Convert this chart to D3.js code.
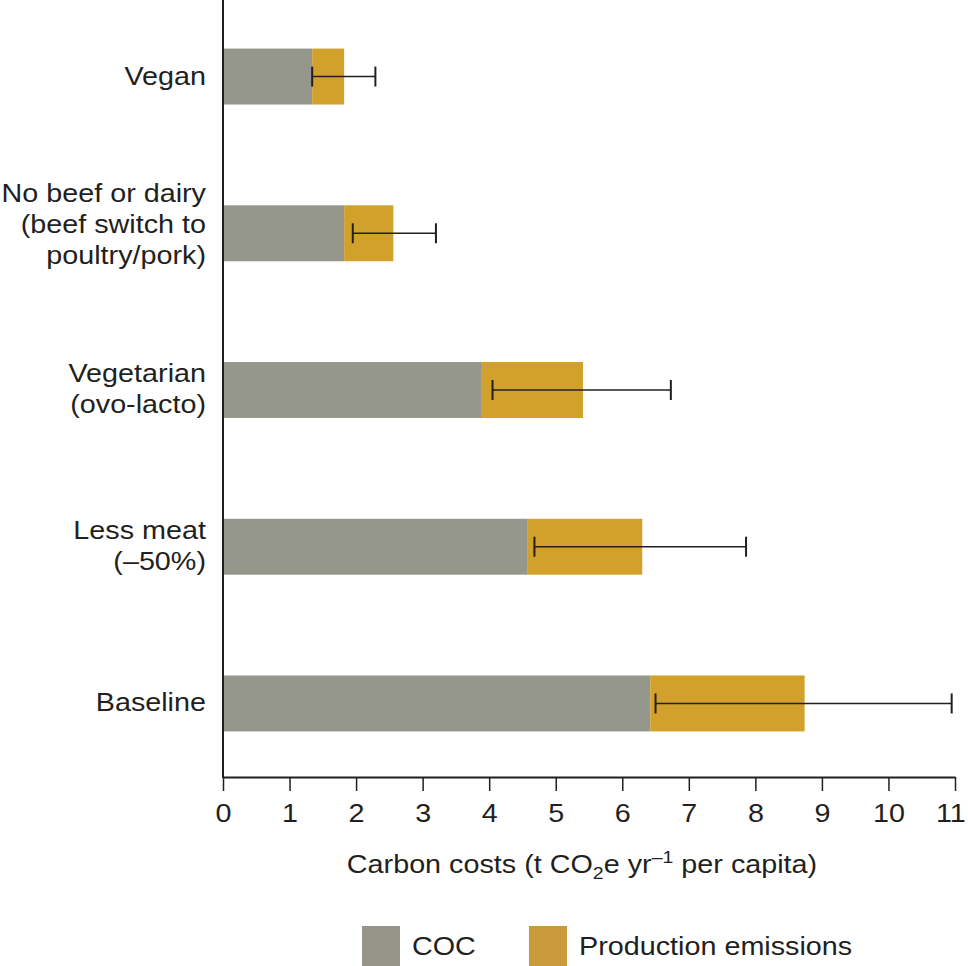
<!DOCTYPE html>
<html lang="en">
<head>
<meta charset="UTF-8">
<title>Carbon costs</title>
<script src="https://cdn.jsdelivr.net/npm/d3@7"></script>
<style>
  body { margin: 0; background: #fff; }
  text { font-family: "Liberation Sans", Arial, sans-serif; fill: #231f20; }
</style>
</head>
<body>
<script>
// data
var diets = ["Vegan", "No beef or dairy", "Vegetarian", "Less meat", "Baseline"];
var dietLabels = [["Vegan"], ["No beef or dairy", "(beef switch to", "poultry/pork)"],
                  ["Vegetarian", "(ovo-lacto)"], ["Less meat", "(\u201350%)"], ["Baseline"]];
var coc = [1.34, 1.82, 3.89, 4.58, 6.42];
var production = [0.48, 0.74, 1.52, 1.72, 2.32];
var errLow = [1.34, 1.95, 4.05, 4.68, 6.50];
var errHigh = [2.29, 3.20, 6.73, 7.86, 10.95];
var xTicks = [0, 1, 2, 3, 4, 5, 6, 7, 8, 9, 10, 11];

var width = 968, height = 966;
var cocColor = "#95968c", prodColor = "#d2a12c";
var fs = 25, stretch = 1.15; // text in the figure is a bit wider than plain Helvetica

var svg = d3.select("body").append("svg").attr("width", width).attr("height", height);

var x = d3.scaleLinear().domain([0, 11]).range([223, 955]);
var y = d3.scaleBand().domain(diets).range([0, 780]).paddingInner(0.643).paddingOuter(0.31);

// bars
var rows = svg.selectAll(".row").data(diets).enter().append("g").attr("class", "row");
rows.append("rect")
  .attr("x", x(0))
  .attr("y", function(d) { return y(d); })
  .attr("width", function(d, i) { return x(coc[i]) - x(0); })
  .attr("height", y.bandwidth())
  .attr("fill", cocColor);
rows.append("rect")
  .attr("x", function(d, i) { return x(coc[i]); })
  .attr("y", function(d) { return y(d); })
  .attr("width", function(d, i) { return x(coc[i] + production[i]) - x(coc[i]); })
  .attr("height", y.bandwidth())
  .attr("fill", prodColor);

// error bars
var cap = 10;
rows.each(function(d, i) {
  var g = d3.select(this), cy = y(d) + y.bandwidth() / 2;
  g.append("line").attr("x1", x(errLow[i])).attr("x2", x(errHigh[i]))
    .attr("y1", cy).attr("y2", cy).attr("stroke", "#231f20").attr("stroke-width", 1.6);
  [errLow[i], errHigh[i]].forEach(function(v) {
    g.append("line").attr("x1", x(v)).attr("x2", x(v))
      .attr("y1", cy - cap).attr("y2", cy + cap)
      .attr("stroke", "#231f20").attr("stroke-width", 2);
  });
});

// category labels
rows.each(function(d, i) {
  var lines = dietLabels[i], cy = y(d) + y.bandwidth() / 2, lh = 31;
  var shift = lines.length === 3 ? 0 : 8;
  var t = d3.select(this).append("text")
    .attr("transform", "translate(206,0) scale(" + stretch + ",1)")
    .attr("text-anchor", "end").attr("font-size", fs);
  lines.forEach(function(l, k) {
    t.append("tspan").attr("x", 0)
      .attr("y", cy + (k - (lines.length - 1) / 2) * lh + shift).text(l);
  });
});

// axes
var axisY = 777;
var xAxis = svg.append("g").attr("transform", "translate(0," + axisY + ")")
  .call(d3.axisBottom(x).tickValues(xTicks).tickSize(14).tickPadding(13).tickSizeOuter(0));
xAxis.select(".domain").attr("stroke", "#231f20").attr("stroke-width", 2);
xAxis.selectAll(".tick line").attr("stroke", "#231f20").attr("stroke-width", 1.5);
xAxis.selectAll(".tick text").attr("font-size", fs)
  .attr("font-family", "Liberation Sans, Arial, sans-serif").attr("fill", "#231f20")
  .attr("transform", "scale(" + stretch + ",1)")
  .attr("dx", function(d) { return d === 11 ? -4 : 0; });

svg.append("line").attr("x1", x(0)).attr("x2", x(0)).attr("y1", 0).attr("y2", axisY + 1)
  .attr("stroke", "#231f20").attr("stroke-width", 2);

// axis title
var title = svg.append("text")
  .attr("transform", "translate(582,873) scale(" + stretch + ",1)")
  .attr("text-anchor", "middle").attr("font-size", fs);
title.append("tspan").text("Carbon costs (t CO");
title.append("tspan").attr("font-size", 17).attr("dy", 6).text("2");
title.append("tspan").attr("dy", -6).text("e yr");
title.append("tspan").attr("font-size", 17).attr("dy", -10).text("\u20131");
title.append("tspan").attr("dy", 10).text(" per capita)");

// legend
var legendItems = [{ label: "COC", color: "#969489", x: 362 }, { label: "Production emissions", color: "#c99b3c", x: 529 }];
var leg = svg.selectAll(".legend").data(legendItems).enter().append("g").attr("class", "legend");
leg.append("rect").attr("x", function(d) { return d.x; }).attr("y", 926)
  .attr("width", 38).attr("height", 40).attr("fill", function(d) { return d.color; });
leg.append("text")
  .attr("transform", function(d) { return "translate(" + (d.x + 50) + ",955) scale(" + stretch + ",1)"; })
  .attr("font-size", fs).text(function(d) { return d.label; });
</script>
</body>
</html>
